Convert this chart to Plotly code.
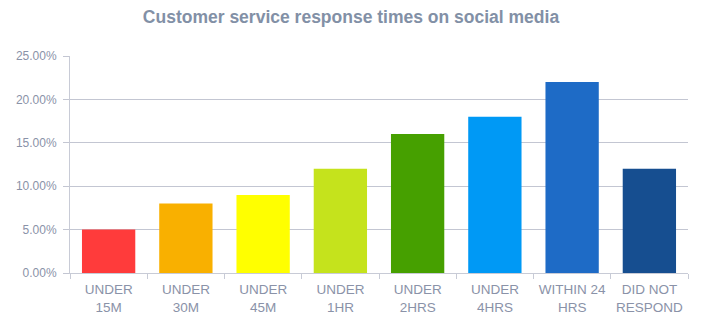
import plotly.graph_objects as go

categories = ["UNDER<br>15M", "UNDER<br>30M", "UNDER<br>45M", "UNDER<br>1HR",
              "UNDER<br>2HRS", "UNDER<br>4HRS", "WITHIN 24<br>HRS", "DID NOT<br>RESPOND"]
values = [5, 8, 9, 12, 16, 18, 22, 12]
colors = ["#FF3B3B", "#F9B000", "#FFFF00", "#C5E31C", "#46A000", "#0099F5", "#1E6BC6", "#164E90"]
yticks = [0, 5, 10, 15, 20, 25]
ytick_labels = ["%.2f%%" % v for v in yticks]

fig = go.Figure(go.Bar(x=categories, y=values, marker=dict(color=colors, line=dict(width=0)),
                       hoverinfo="skip"))

fig.update_layout(
    width=702, height=322,
    margin=dict(l=70, r=14, t=56, b=49),
    paper_bgcolor="white", plot_bgcolor="white",
    bargap=0.31,
    showlegend=False,
    title=dict(text="<b>Customer service response times on social media</b>",
               x=0.5, xanchor="center", y=0.947, yanchor="middle",
               font=dict(family="Liberation Sans, Arial", size=17.5, color="#8290A6")),
    font=dict(family="Liberation Sans, Arial", size=12, color="#8A92A8"),
)
fig.update_yaxes(range=[0, 25], tickvals=yticks, ticktext=ytick_labels,
                 showgrid=True, gridcolor="#C3C6D2", gridwidth=1,
                 showline=True, linecolor="#C8CBD6", linewidth=1,
                 ticks="outside", ticklen=6, tickcolor="#C3C6D2",
                 ticklabelstandoff=4, automargin=False,
                 zeroline=False, tickfont=dict(size=12, color="#8A92A8"))
fig.update_xaxes(showline=True, linecolor="#C8CBD6", linewidth=1,
                 ticks="outside", ticklen=5, tickcolor="#C8CBD6", tickson="boundaries",
                 ticklabelstandoff=4, tickangle=0, automargin=False,
                 tickfont=dict(size=13.5, color="#8A92A8"))

fig.write_html("out.html")
